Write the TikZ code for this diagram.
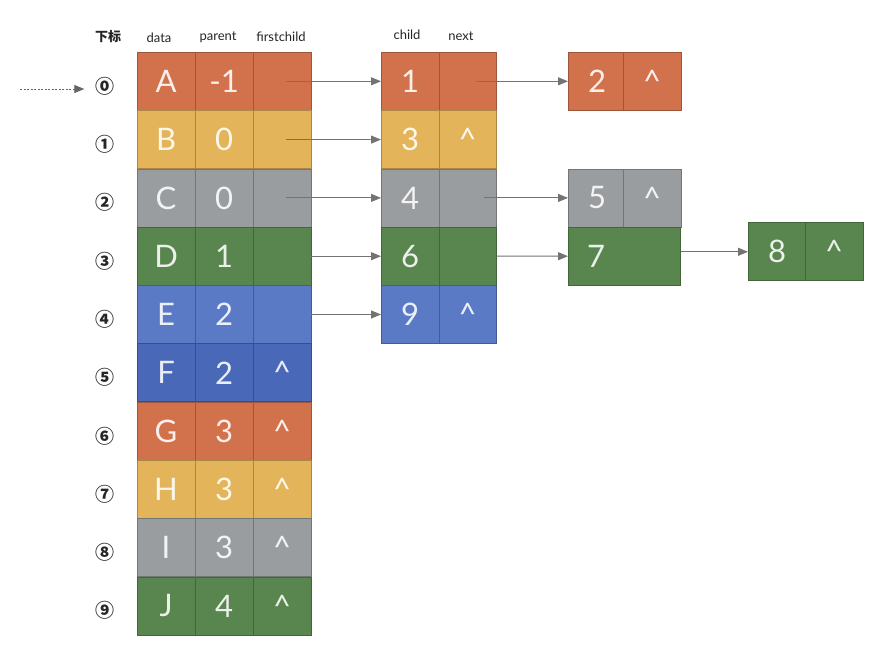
\documentclass[tikz,border=0pt]{standalone}
\usepackage{fontspec}
\setmainfont{Lato}
\newfontfamily\cjk{Noto Sans CJK SC}
\usetikzlibrary{arrows.meta,calc}
\definecolor{cor}{RGB}{210,114,76}
\definecolor{cye}{RGB}{227,180,90}
\definecolor{cgr}{RGB}{153,157,160}
\definecolor{cgn}{RGB}{88,134,78}
\definecolor{cbl}{RGB}{90,122,198}
\definecolor{cbd}{RGB}{74,104,184}
\begin{document}
\begin{tikzpicture}[x=1pt,y=-1pt]
\useasboundingbox[fill=white] (0,0) rectangle (895,668);
\tikzset{
 cell/.style={draw=#1!75!black, fill=#1, minimum width=57.5pt, minimum height=58pt, inner sep=0pt,
   text=white!88!#1, font=\fontsize{31}{31}\selectfont, anchor=north west, line width=0.6pt},
 celltext/.style={text=white!88!#1, font=\fontsize{31}{31}\selectfont, inner sep=0pt},
 hdr/.style={font=\fontsize{13}{13}\selectfont, text=black!85, inner sep=0pt},
 idx/.style={font=\cjk\bfseries\fontsize{19}{19}\selectfont, text=black!85, inner sep=1pt},
 link/.style={draw=black!55, line width=1pt, -{Triangle[length=10pt,width=8pt]}},
 lead/.style={draw=black!60, line width=0.8pt, dash pattern=on 2pt off 1.5pt, -{Triangle[length=10pt,width=8pt]}, shorten >=10pt}
}
% headers
\node[hdr] (hidx) at (108,37) {\cjk\bfseries 下标};
\node[hdr] (hdata) at (159,38) {data};
\node[hdr] (hpar) at (218,37) {parent};
\node[hdr] (hfc) at (281,37) {firstchild};
\node[hdr] (hch) at (407,35) {child};
\node[hdr] (hnx) at (461,36) {next};
% main table
\foreach \i/\d/\p/\f/\c/\k in {
 0/A/-1//cor/⓪, 1/B/0//cye/①, 2/C/0//cgr/②, 3/D/1//cgn/③, 4/E/2//cbl/④,
 5/F/2/\textasciicircum/cbd/⑤, 6/G/3/\textasciicircum/cor/⑥, 7/H/3/\textasciicircum/cye/⑦,
 8/I/3/\textasciicircum/cgr/⑧, 9/J/4/\textasciicircum/cgn/⑨}{
 \node[cell=\c] (d\i) at (137,{52+58.3*\i}) {\d};
 \node[cell=\c] (p\i) at (195,{52+58.3*\i}) {\p};
 \node[cell=\c] (f\i) at (253,{52+58.3*\i}) {\f};
 \node[idx] (i\i) at (105,{52+58.3*\i+34}) {\k};
}
% child list
\foreach \i/\a/\b/\c in {0/1//cor, 1/3/\textasciicircum/cye, 2/4//cgr, 3/6//cgn, 4/9/\textasciicircum/cbl}{
 \node[cell=\c] (ch\i) at (381,{52+58.3*\i}) {\a};
 \node[cell=\c] (nx\i) at (438.5,{52+58.3*\i}) {\b};
}
% further nodes
\node[cell=cor] (a2) at (568,52) {2};
\node[cell=cor] (a2n) at (623,52) {\textasciicircum};
\node[cell=cgr] (b5) at (568,168.6) {5};
\node[cell=cgr] (b5n) at (623,168.6) {\textasciicircum};
\node[cell=cgn, minimum width=112pt] (b7) at (568,226.9) {};
\node[celltext=cgn] (b7t) at ($(b7.west)+(28,0)$) {7};
\node[cell=cgn] (c8) at (748,222.5) {8};
\node[cell=cgn] (c8n) at (805,222.5) {\textasciicircum};
% leading arrow
\coordinate (lead0) at (20,89);
\draw[lead] (lead0) -- (lead0 -| i0.west);
% links
\draw[link] ($(f0.center)+(4,0)$) -- (ch0.west);
\draw[link] ($(f1.center)+(4,0)$) -- (ch1.west);
\draw[link] ($(f2.center)+(4,0)$) -- (ch2.west);
\draw[link] (f3.east) -- (ch3.west);
\draw[link] (f4.east) -- (ch4.west);
\draw[link] ($(nx0.center)+(8,0)$) -- (a2.west);
\draw[link] ($(nx2.center)+(16,0)$) -- (b5.west);
\draw[link] (nx3.east) -- (b7.west);
\draw[link] (c8.west -| b7.east) -- (c8.west);
\end{tikzpicture}
\end{document}
